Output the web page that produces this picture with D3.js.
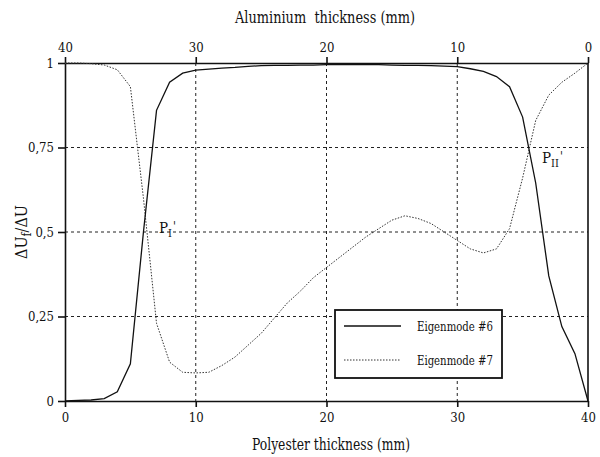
<!DOCTYPE html>
<html>
<head>
<meta charset="utf-8">
<script src="https://cdn.jsdelivr.net/npm/d3@7"></script>
<style>
  html, body { margin: 0; padding: 0; background: #fff; }
  svg { display: block; }
  svg text { font-family: "DejaVu Serif Condensed", "DejaVu Serif", serif !important; }
</style>
</head>
<body>
<svg id="chart" width="600" height="457"></svg>
<script>
// Polyester thickness (mm), sampled every millimetre
const polyester = d3.range(0, 41);

// ΔUf/ΔU for eigenmode #6 (solid)
const mode6 = [0, 0.002, 0.003, 0.007, 0.027, 0.11, 0.5, 0.86, 0.943, 0.97,
  0.979, 0.982, 0.985, 0.987, 0.99, 0.992, 0.993, 0.993, 0.994, 0.994,
  0.995, 0.995, 0.995, 0.995, 0.995, 0.994, 0.993, 0.993, 0.992, 0.991,
  0.989, 0.983, 0.975, 0.96, 0.93, 0.84, 0.645, 0.37, 0.22, 0.14, 0];

// ΔUf/ΔU for eigenmode #7 (dotted)
const mode7 = [1, 1, 0.998, 0.994, 0.98, 0.93, 0.6, 0.23, 0.115, 0.085,
  0.083, 0.085, 0.105, 0.13, 0.165, 0.2, 0.245, 0.29, 0.325, 0.365,
  0.395, 0.425, 0.455, 0.485, 0.51, 0.535, 0.548, 0.54, 0.525, 0.5,
  0.475, 0.45, 0.438, 0.45, 0.51, 0.66, 0.83, 0.905, 0.943, 0.97, 1];

const xTicks = [0, 10, 20, 30, 40];
const yTicks = [0, 0.25, 0.5, 0.75, 1];
const yTickLabels = ["0", "0,25", "0,5", "0,75", "1"];
const seriesNames = ["Eigenmode #6", "Eigenmode #7"];

const svg = d3.select("#chart");
const plotL = 65, plotR = 588, plotT = 63, plotB = 401;

const x = d3.scaleLinear().domain([0, 40]).range([plotL, plotR]);
// Aluminium thickness runs the other way: total is 40 mm
const xAl = d3.scaleLinear().domain([40, 0]).range([plotL, plotR]);
const y = d3.scaleLinear().domain([0, 1]).range([plotB, plotT]);

// Dashed grid
const grid = svg.append("g").attr("stroke", "#222").attr("stroke-width", 1)
  .attr("stroke-dasharray", "3,3").attr("fill", "none");
grid.selectAll("line.v").data(xTicks.filter(d => d > 0 && d < 40)).join("line").attr("class", "v")
  .attr("x1", d => x(d)).attr("x2", d => x(d)).attr("y1", plotT).attr("y2", plotB);
grid.selectAll("line.h").data(yTicks.filter(d => d > 0 && d < 1)).join("line").attr("class", "h")
  .attr("x1", plotL).attr("x2", plotR).attr("y1", d => y(d)).attr("y2", d => y(d));

// Axes
const axisStyle = g => {
  g.select(".domain").attr("stroke", "#111").attr("stroke-width", 1.6);
  g.selectAll(".tick line").attr("stroke", "#111").attr("stroke-width", 1.6);
  g.selectAll("text").attr("font-size", 13).attr("fill", "#111");
};

svg.append("g").attr("transform", `translate(0,${plotB})`)
  .call(d3.axisBottom(x).tickValues(xTicks).tickSize(6).tickSizeOuter(0).tickPadding(6).tickFormat(d3.format("d")))
  .call(axisStyle);
svg.append("g").attr("transform", `translate(0,${plotT})`)
  .call(d3.axisTop(xAl).tickValues(xTicks).tickSize(6).tickSizeOuter(0).tickPadding(5).tickFormat(d3.format("d")))
  .call(axisStyle);
svg.append("g").attr("transform", `translate(${plotL},0)`)
  .call(d3.axisLeft(y).tickValues(yTicks).tickSize(7).tickSizeOuter(0).tickPadding(4)
    .tickFormat((d, i) => yTickLabels[i]))
  .call(axisStyle);
svg.append("line").attr("x1", plotR).attr("x2", plotR).attr("y1", plotT).attr("y2", plotB)
  .attr("stroke", "#111").attr("stroke-width", 1.6);

// Curves
const line = d3.line().x((d, i) => x(polyester[i])).y(d => y(d));
svg.append("path").datum(mode7).attr("d", line).attr("fill", "none")
  .attr("stroke", "#333").attr("stroke-width", 1).attr("stroke-dasharray", "1.5,1.5");
svg.append("path").datum(mode6).attr("d", line).attr("fill", "none")
  .attr("stroke", "#111").attr("stroke-width", 1.3);

// Axis titles
svg.append("text").attr("x", 235).attr("y", 23)
  .attr("font-size", 16).attr("fill", "#111").style("white-space", "pre")
  .attr("textLength", 180).attr("lengthAdjust", "spacingAndGlyphs")
  .text("Aluminium  thickness (mm)");
svg.append("text").attr("x", 252).attr("y", 450)
  .attr("font-size", 16).attr("fill", "#111")
  .attr("textLength", 158).attr("lengthAdjust", "spacingAndGlyphs")
  .text("Polyester thickness (mm)");

const yl = svg.append("text").attr("transform", "translate(27,232) rotate(-90)")
  .attr("text-anchor", "middle").attr("font-size", 16).attr("fill", "#111");
yl.append("tspan").text("ΔU");
yl.append("tspan").attr("font-size", 12).attr("dy", 4).text("f");
yl.append("tspan").attr("dy", -4).text("/ΔU");

// Crossing point labels: P, subscript, then a separate prime mark
function pointLabel(px, py, sub) {
  const t = svg.append("text").attr("x", px).attr("y", py).attr("font-size", 15).attr("fill", "#111");
  t.append("tspan").text("P");
  t.append("tspan").attr("font-size", 11).attr("dy", 4).text(sub);
  const w = t.node().getComputedTextLength();
  svg.append("text").attr("x", px + w + 1).attr("y", py - 2).attr("font-size", 12)
    .attr("fill", "#111").text("'");
}
pointLabel(159, 233, "I");
pointLabel(542, 163, "II");

// Legend
const lg = svg.append("g");
lg.append("rect").attr("x", 335).attr("y", 310).attr("width", 167).attr("height", 68)
  .attr("fill", "#fff").attr("stroke", "#111").attr("stroke-width", 1.8);
const dashes = [null, "1.5,1.5"];
seriesNames.forEach((name, i) => {
  const ly = 326 + i * 34;
  lg.append("line").attr("x1", 344).attr("x2", 401).attr("y1", ly).attr("y2", ly)
    .attr("stroke", i ? "#333" : "#111").attr("stroke-width", i ? 1 : 1.3)
    .attr("stroke-dasharray", dashes[i]);
  lg.append("text").attr("x", 417).attr("y", ly + 5).attr("font-size", 12)
    .attr("textLength", 76).attr("lengthAdjust", "spacingAndGlyphs")
    .attr("fill", "#111").text(name);
});
</script>
</body>
</html>
